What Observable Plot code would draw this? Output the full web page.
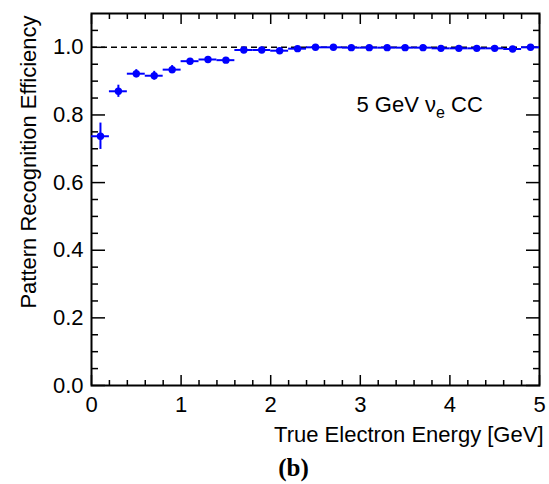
<!DOCTYPE html>
<html>
<head>
<meta charset="utf-8">
<script src="https://cdn.jsdelivr.net/npm/d3@7"></script>
<script src="https://cdn.jsdelivr.net/npm/@observablehq/plot@0.6"></script>
<style>
  html, body { margin: 0; padding: 0; background: #fff; }
  #chart svg { display: block; }
</style>
</head>
<body>
<div id="chart"></div>
<script>
// Bin centres (true electron energy, GeV), bin half-width 0.1 GeV
const energy = [0.1, 0.3, 0.5, 0.7, 0.9, 1.1, 1.3, 1.5, 1.7, 1.9, 2.1, 2.3, 2.5,
                2.7, 2.9, 3.1, 3.3, 3.5, 3.7, 3.9, 4.1, 4.3, 4.5, 4.7, 4.9];
const binLow  = [0.0, 0.2, 0.4, 0.6, 0.8, 1.0, 1.2, 1.4, 1.6, 1.8, 2.0, 2.2, 2.4,
                 2.6, 2.8, 3.0, 3.2, 3.4, 3.6, 3.8, 4.0, 4.2, 4.4, 4.6, 4.8];
const binHigh = [0.2, 0.4, 0.6, 0.8, 1.0, 1.2, 1.4, 1.6, 1.8, 2.0, 2.2, 2.4, 2.6,
                 2.8, 3.0, 3.2, 3.4, 3.6, 3.8, 4.0, 4.2, 4.4, 4.6, 4.8, 5.0];
const efficiency = [0.737, 0.870, 0.922, 0.916, 0.934, 0.959, 0.964, 0.962, 0.992, 0.992,
                    0.990, 0.996, 1.000, 1.000, 0.999, 0.999, 0.999, 0.999, 0.999, 0.997,
                    0.997, 0.997, 0.997, 0.995, 1.000];
const effError = [0.039, 0.018, 0.012, 0.013, 0.012, 0.008, 0.007, 0.007, 0.004, 0.004,
                  0.004, 0.003, 0.001, 0.001, 0.001, 0.001, 0.001, 0.001, 0.001, 0.002,
                  0.002, 0.002, 0.002, 0.002, 0.001];

const xMajorTicks = [0, 1, 2, 3, 4, 5];
const xMinorTicks = [0.2, 0.4, 0.6, 0.8, 1.2, 1.4, 1.6, 1.8, 2.2, 2.4, 2.6, 2.8,
                     3.2, 3.4, 3.6, 3.8, 4.2, 4.4, 4.6, 4.8];
const yMajorTicks = [0, 0.2, 0.4, 0.6, 0.8, 1.0];
const yMinorTicks = [0.05, 0.1, 0.15, 0.25, 0.3, 0.35, 0.45, 0.5, 0.55, 0.65, 0.7, 0.75,
                     0.85, 0.9, 0.95, 1.05];
const referenceLevel = [1.0];

const xTitle = "True Electron Energy [GeV]";
const yTitle = "Pattern Recognition Efficiency";
const legendText = "5 GeV νe CC";
const panelLabel = "(b)";

const data = energy.map((e, i) => ({
  x: e, lo: binLow[i], hi: binHigh[i],
  v: efficiency[i], e1: efficiency[i] - effError[i], e2: efficiency[i] + effError[i]
}));

const font = "'Liberation Sans', Arial, Helvetica, sans-serif";
const blue = "#0000ff";
const fs = 22;

const plot = Plot.plot({
  width: 549,
  height: 484,
  marginLeft: 91,
  marginRight: 10,
  marginTop: 13,
  marginBottom: 99,
  style: { fontFamily: font, fontSize: fs + "px", color: "#000", background: "#fff" },
  x: { domain: [0, 5] },
  y: { domain: [0, 1.1] },
  marks: [
    // reference line at efficiency = 1
    Plot.ruleY(referenceLevel, { x1: 0, x2: 5, stroke: "#000", strokeWidth: 1.5, strokeDasharray: "6,4" }),
    // ticks inside the frame (ROOT style)
    Plot.axisX({ ticks: xMajorTicks, anchor: "bottom", tickSize: -10, text: null, strokeWidth: 1.5 }),
    Plot.axisX({ ticks: xMinorTicks, anchor: "bottom", tickSize: -5, text: null, strokeWidth: 1.5 }),
    Plot.axisX({ ticks: xMajorTicks, anchor: "top", tickSize: -10, text: null, strokeWidth: 1.5 }),
    Plot.axisX({ ticks: xMinorTicks, anchor: "top", tickSize: -5, text: null, strokeWidth: 1.5 }),
    Plot.axisY({ ticks: yMajorTicks, anchor: "left", tickSize: -14, text: null, strokeWidth: 1.5 }),
    Plot.axisY({ ticks: yMinorTicks, anchor: "left", tickSize: -7, text: null, strokeWidth: 1.5 }),
    Plot.axisY({ ticks: yMajorTicks, anchor: "right", tickSize: -14, text: null, strokeWidth: 1.5 }),
    Plot.axisY({ ticks: yMinorTicks, anchor: "right", tickSize: -7, text: null, strokeWidth: 1.5 }),
    // tick labels
    Plot.axisX({ ticks: xMajorTicks, anchor: "bottom", tickSize: 0, tickPadding: 11, label: null,
                 tickFormat: d3.format("d"), fontSize: fs }),
    Plot.axisY({ ticks: yMajorTicks, anchor: "left", tickSize: 0, tickPadding: 8, label: null,
                 tickFormat: d3.format(".1f"), fontSize: fs }),
    // frame
    Plot.frame({ stroke: "#000", strokeWidth: 2 }),
    // error bars
    Plot.ruleY(data, { y: "v", x1: "lo", x2: "hi", stroke: blue, strokeWidth: 2 }),
    Plot.ruleX(data, { x: "x", y1: "e1", y2: "e2", stroke: blue, strokeWidth: 2 }),
    // markers
    Plot.dot(data, { x: "x", y: "v", r: 3.7, fill: blue, stroke: "none" }),
    // legend text
    Plot.text([legendText], { frameAnchor: "top-left", dx: 265, dy: 91, textAnchor: "start",
                              lineAnchor: "middle", fontSize: fs, fill: "#000" }),
    // axis titles
    Plot.text([xTitle], { frameAnchor: "bottom-right", dx: 4, dy: 49, textAnchor: "end",
                          lineAnchor: "middle", fontSize: fs, fill: "#000" }),
    Plot.text([yTitle], { frameAnchor: "top-left", dx: -63, dy: 2, rotate: -90, textAnchor: "end",
                          lineAnchor: "middle", fontSize: fs, fill: "#000" }),
    // panel label
    Plot.text([panelLabel], { frameAnchor: "bottom", dx: -22, dy: 82, textAnchor: "middle",
                              lineAnchor: "middle", fontSize: 25, fontWeight: "bold",
                              fontFamily: "'Liberation Serif', 'Times New Roman', serif", fill: "#000" })
  ]
});

// subscript "e" in the legend text
for (const t of plot.querySelectorAll("text")) {
  if (t.textContent === legendText) {
    t.textContent = "";
    const ns = "http://www.w3.org/2000/svg";
    const a = document.createElementNS(ns, "tspan"); a.textContent = "5 GeV ν";
    const b = document.createElementNS(ns, "tspan"); b.textContent = "e";
    b.setAttribute("font-size", "16"); b.setAttribute("dy", "6");
    const c = document.createElementNS(ns, "tspan"); c.textContent = " CC"; c.setAttribute("dy", "-6");
    t.append(a, b, c);
  }
}

document.getElementById("chart").append(plot);
</script>
</body>
</html>
